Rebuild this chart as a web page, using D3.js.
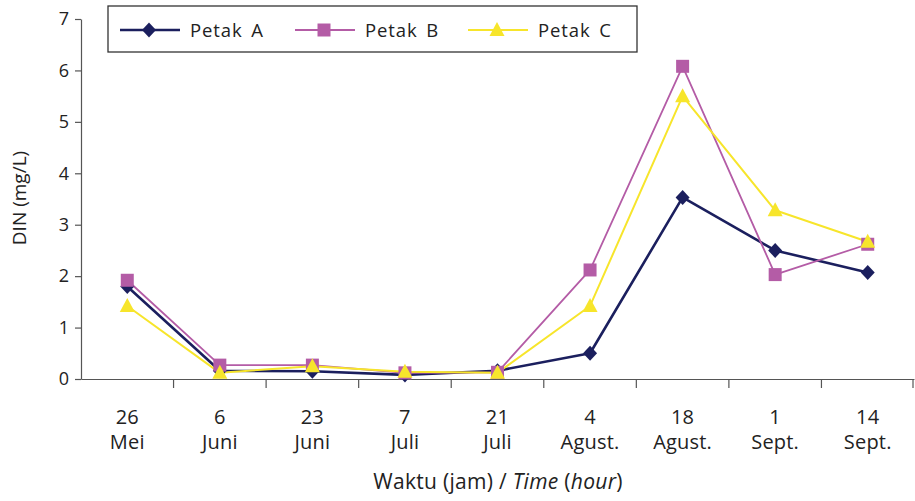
<!DOCTYPE html>
<html><head><meta charset="utf-8">
<script src="https://cdn.jsdelivr.net/npm/d3@7"></script>
<style>body{margin:0;background:#fff}svg{display:block}</style>
</head><body>
<script>
const dayLabels = ["26","6","23","7","21","4","18","1","14"];
const monthLabels = ["Mei","Juni","Juni","Juli","Juli","Agust.","Agust.","Sept.","Sept."];
const categories = dayLabels.map((d,i)=>d+" "+monthLabels[i]);
const petakA = [1.8,0.16,0.15,0.08,0.16,0.5,3.53,2.5,2.07];
const petakB = [1.92,0.27,0.27,0.12,0.13,2.12,6.08,2.03,2.62];
const petakC = [1.42,0.12,0.25,0.14,0.12,1.42,5.5,3.28,2.67];
const seriesNames = ["Petak A","Petak B","Petak C"];
const yTicks = [0,1,2,3,4,5,6,7];

const W=915,H=501;
const svg=d3.select("body").append("svg").attr("width",W).attr("height",H);
const x=d3.scaleBand().domain(categories).range([81,914]).padding(0);
const y=d3.scaleLinear().domain([0,7]).range([379,19]);
const series=[
 {name:seriesNames[0],values:petakA,color:"#1b1f5e",width:2.6,marker:"diamond"},
 {name:seriesNames[1],values:petakB,color:"#b45ca6",width:1.8,marker:"square"},
 {name:seriesNames[2],values:petakC,color:"#f7e52b",width:2,marker:"triangle"}
];
const font="'Open Sans','Noto Sans',sans-serif";
const axisColor="#555";

// y axis
const yAxis=svg.append("g").attr("transform","translate(81,0)")
 .call(d3.axisLeft(y).tickValues(yTicks).tickFormat(d3.format("d")).tickSize(6).tickSizeOuter(0));
yAxis.select(".domain").attr("stroke",axisColor).attr("stroke-width",1.2);
yAxis.selectAll(".tick line").attr("stroke",axisColor).attr("stroke-width",1.2);
yAxis.selectAll(".tick text").attr("font-family",font).attr("font-size",18).attr("fill","#222").attr("x",-12);

// x axis
const xAxis=svg.append("g").attr("transform","translate(0,379)")
 .call(d3.axisBottom(x).tickSize(0).tickSizeOuter(0).tickFormat(""));
xAxis.select(".domain").attr("stroke",axisColor).attr("stroke-width",1.2);
const bounds=categories.slice(1).map(c=>x(c)).concat([x(categories[categories.length-1])+x.bandwidth()-1]);
svg.append("g").selectAll("line").data(bounds).join("line")
 .attr("x1",d=>d).attr("x2",d=>d).attr("y1",379).attr("y2",388)
 .attr("stroke",axisColor).attr("stroke-width",1.2);
const xl=svg.append("g").attr("font-family",font).attr("font-size",20)
 .attr("fill","#222").attr("text-anchor","middle").attr("letter-spacing",0.2);
categories.forEach((c,i)=>{
 const cx=x(c)+x.bandwidth()/2;
 xl.append("text").attr("x",cx).attr("y",424).text(dayLabels[i]);
 xl.append("text").attr("x",cx).attr("y",449).text(monthLabels[i]);
});

// titles
svg.append("text").attr("transform","translate(26,198) rotate(-90)").attr("text-anchor","middle")
 .attr("font-family",font).attr("font-size",19).attr("fill","#222").text("DIN (mg/L)");
const xt=svg.append("text").attr("x",498).attr("y",489).attr("text-anchor","middle")
 .attr("font-family",font).attr("font-size",21).attr("letter-spacing",0.3).attr("fill","#222");
xt.append("tspan").text("Waktu (jam) / ");
xt.append("tspan").attr("font-style","italic").text("Time");
xt.append("tspan").text(" (");
xt.append("tspan").attr("font-style","italic").text("hour");
xt.append("tspan").text(")");

function markerPath(type){
 if(type==="diamond") return "M0,-7.5L7,0L0,7.5L-7,0Z";
 if(type==="square") return "M-6.5,-6.5H6.5V6.5H-6.5Z";
 return "M0,-8L7.5,6L-7.5,6Z";
}
const line=d3.line().x((d,i)=>x(categories[i])+x.bandwidth()/2).y(d=>y(d));
series.forEach(s=>{
 svg.append("path").datum(s.values).attr("d",line).attr("fill","none")
  .attr("stroke",s.color).attr("stroke-width",s.width).attr("stroke-linejoin","round");
});
series.forEach(s=>{
 svg.append("g").selectAll("path").data(s.values).join("path")
  .attr("d",markerPath(s.marker))
  .attr("transform",(d,i)=>`translate(${x(categories[i])+x.bandwidth()/2},${y(d)})`)
  .attr("fill",s.color);
});

// legend
const lg=svg.append("g");
lg.append("rect").attr("x",108).attr("y",6).attr("width",529).attr("height",46)
 .attr("fill","#fff").attr("stroke","#333").attr("stroke-width",1.3);
const lx=[120,295,468];
series.forEach((s,i)=>{
 const g=lg.append("g").attr("transform",`translate(${lx[i]},30)`);
 g.append("line").attr("x1",0).attr("x2",60).attr("stroke",s.color).attr("stroke-width",s.width);
 g.append("path").attr("d",markerPath(s.marker)).attr("transform","translate(29,0)").attr("fill",s.color);
 g.append("text").attr("x",70).attr("y",7).attr("font-family",font).attr("font-size",18.5)
  .attr("fill","#222").attr("letter-spacing",0.9).attr("word-spacing",3).text(s.name);
});
</script>
</body></html>
